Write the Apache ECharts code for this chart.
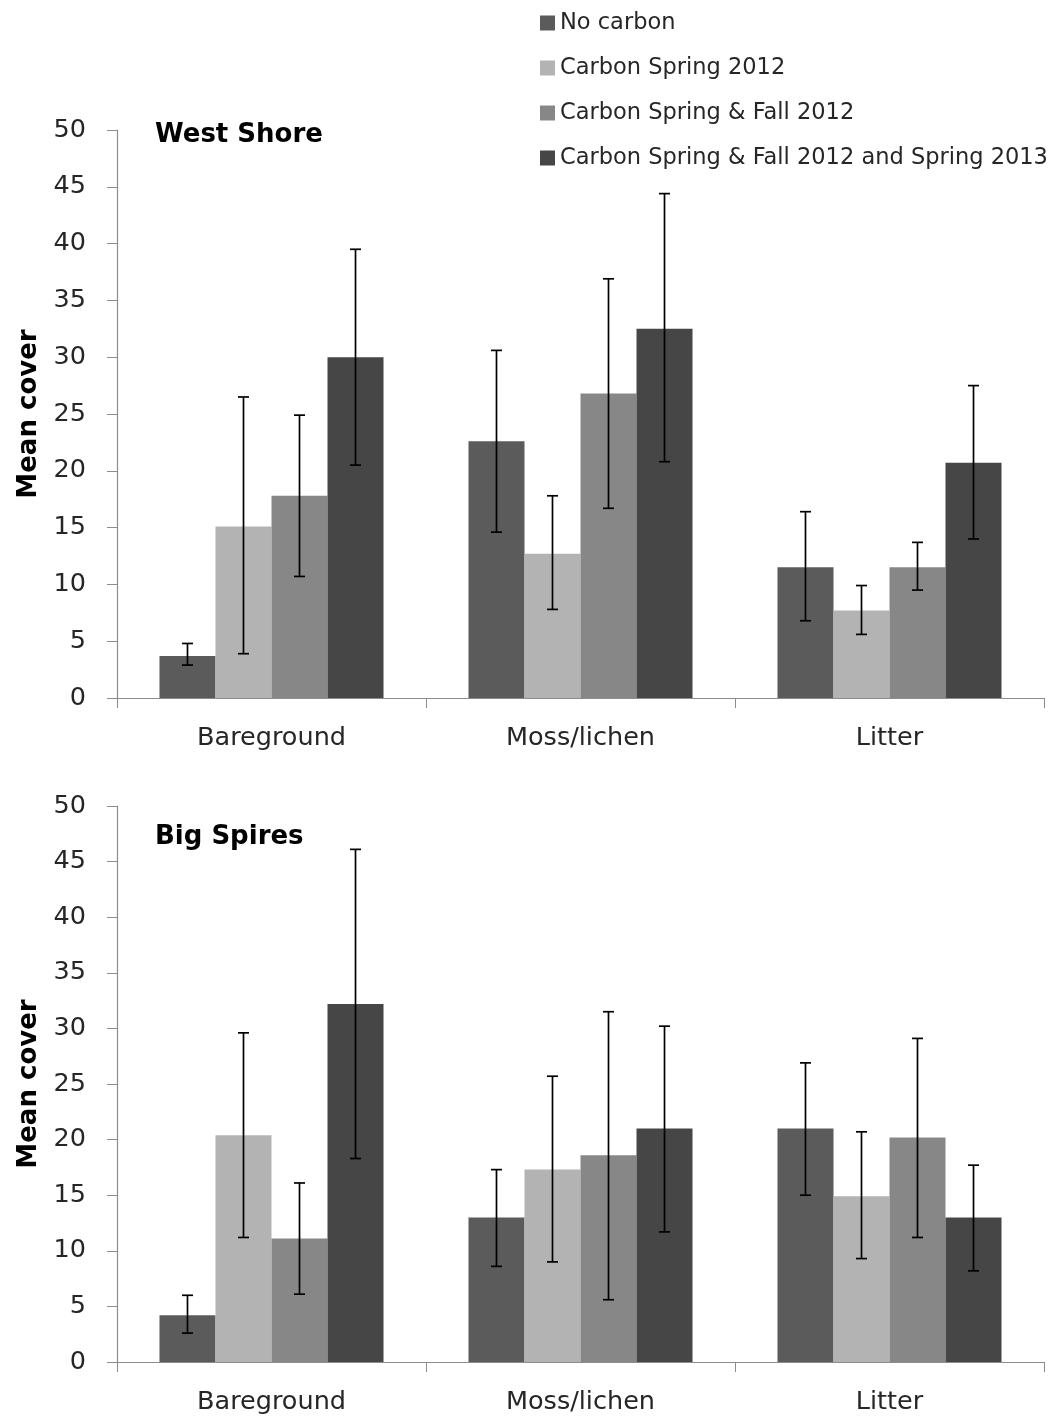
<!DOCTYPE html>
<html>
<head>
<meta charset="utf-8">
<script src="https://cdn.jsdelivr.net/npm/echarts@6/dist/echarts.min.js"></script>
<style>
html,body{margin:0;padding:0;background:#fff;}
#chart{width:1054px;height:1423px;}
</style>
</head>
<body>
<div id="chart"></div>
<script>
// ---------- data ----------
const categories = ['Bareground', 'Moss/lichen', 'Litter'];
const treatments = ['No carbon', 'Carbon Spring 2012', 'Carbon Spring & Fall 2012', 'Carbon Spring & Fall 2012 and Spring 2013'];
const yTicks = [0, 5, 10, 15, 20, 25, 30, 35, 40, 45, 50];

// West Shore: mean per treatment, for each category
const westNoCarbon   = [3.7, 22.6, 11.5];
const westSpring12   = [15.1, 12.7, 7.7];
const westSpringFall = [17.8, 26.8, 11.5];
const westAll        = [30.0, 32.5, 20.7];
// error bar low / high
const westNoCarbonLow   = [2.9, 14.6, 6.8];
const westNoCarbonHigh  = [4.8, 30.6, 16.4];
const westSpring12Low   = [3.9, 7.8, 5.6];
const westSpring12High  = [26.5, 17.8, 9.9];
const westSpringFallLow = [10.7, 16.7, 9.5];
const westSpringFallHigh= [24.9, 36.9, 13.7];
const westAllLow        = [20.5, 20.8, 14.0];
const westAllHigh       = [39.5, 44.4, 27.5];

// Big Spires
const bigNoCarbon   = [4.2, 13.0, 21.0];
const bigSpring12   = [20.4, 17.3, 14.9];
const bigSpringFall = [11.1, 18.6, 20.2];
const bigAll        = [32.2, 21.0, 13.0];
const bigNoCarbonLow    = [2.6, 8.6, 15.0];
const bigNoCarbonHigh   = [6.0, 17.3, 26.9];
const bigSpring12Low    = [11.2, 9.0, 9.3];
const bigSpring12High   = [29.6, 25.7, 20.7];
const bigSpringFallLow  = [6.1, 5.6, 11.2];
const bigSpringFallHigh = [16.1, 31.5, 29.1];
const bigAllLow         = [18.3, 11.7, 8.2];
const bigAllHigh        = [46.1, 30.2, 17.7];

const colors = ['#5b5b5b', '#b3b3b3', '#878787', '#464646'];
const FONT = 'DejaVu Sans';

// ---------- build ----------
const westMeans = [westNoCarbon, westSpring12, westSpringFall, westAll];
const westLows  = [westNoCarbonLow, westSpring12Low, westSpringFallLow, westAllLow];
const westHighs = [westNoCarbonHigh, westSpring12High, westSpringFallHigh, westAllHigh];
const bigMeans  = [bigNoCarbon, bigSpring12, bigSpringFall, bigAll];
const bigLows   = [bigNoCarbonLow, bigSpring12Low, bigSpringFallLow, bigAllLow];
const bigHighs  = [bigNoCarbonHigh, bigSpring12High, bigSpringFallHigh, bigAllHigh];

const CAT_GAP = 0.275;

function errData(lows, highs) {
  const out = [];
  for (let s = 0; s < lows.length; s++)
    for (let c = 0; c < categories.length; c++)
      out.push([c, s, lows[s][c], highs[s][c]]);
  return out;
}

function renderErr(params, api) {
  const c = api.value(0), s = api.value(1);
  const lo = api.coord([c, api.value(2)]);
  const hi = api.coord([c, api.value(3)]);
  const catW = api.size([1, 0])[0];
  const barW = catW * (1 - CAT_GAP) / treatments.length;
  const x = lo[0] + (s - (treatments.length - 1) / 2) * barW;
  const cap = 5.5;
  const style = { stroke: '#000', lineWidth: 1.7 };
  return {
    type: 'group',
    children: [
      { type: 'line', shape: { x1: x, y1: lo[1], x2: x, y2: hi[1] }, style },
      { type: 'line', shape: { x1: x - cap, y1: lo[1], x2: x + cap, y2: lo[1] }, style },
      { type: 'line', shape: { x1: x - cap, y1: hi[1], x2: x + cap, y2: hi[1] }, style }
    ]
  };
}

function xAxis(gi) {
  return {
    type: 'category', gridIndex: gi, data: categories,
    axisLine: { lineStyle: { color: '#8c8c8c', width: 1.2 } },
    axisTick: { show: true, length: 10, lineStyle: { color: '#8c8c8c' }, alignWithLabel: false },
    axisLabel: { color: '#262626', fontSize: 25.5, fontFamily: FONT, margin: 27 },
    splitLine: { show: false }
  };
}
function yAxis(gi) {
  return {
    type: 'value', gridIndex: gi, min: yTicks[0], max: yTicks[yTicks.length - 1], interval: yTicks[1] - yTicks[0],
    name: 'Mean cover', nameLocation: 'middle', nameGap: 74,
    nameTextStyle: { color: '#000', fontSize: 26, fontWeight: 'bold', fontFamily: FONT },
    axisLine: { show: true, lineStyle: { color: '#8c8c8c', width: 1.2 } },
    axisTick: { show: true, length: 10, lineStyle: { color: '#8c8c8c' } },
    axisLabel: { color: '#262626', fontSize: 25.5, fontFamily: FONT, margin: 31 },
    splitLine: { show: false }
  };
}

const series = [];
[westMeans, bigMeans].forEach((means, gi) => {
  means.forEach((vals, s) => {
    series.push({
      type: 'bar', name: treatments[s], xAxisIndex: gi, yAxisIndex: gi, data: vals,
      itemStyle: { color: colors[s] }, barGap: '0%', barCategoryGap: (CAT_GAP * 100) + '%',
      z: 2
    });
  });
});
series.push({ type: 'custom', name: 'errW', xAxisIndex: 0, yAxisIndex: 0, data: errData(westLows, westHighs),
  renderItem: renderErr, encode: { x: 0, y: [2, 3] }, z: 5, silent: true });
series.push({ type: 'custom', name: 'errB', xAxisIndex: 1, yAxisIndex: 1, data: errData(bigLows, bigHighs),
  renderItem: renderErr, encode: { x: 0, y: [2, 3] }, z: 5, silent: true });

const chart = echarts.init(document.getElementById('chart'), null, { renderer: 'canvas' });
chart.setOption({
  animation: false,
  backgroundColor: '#fff',
  color: colors,
  title: [
    { text: 'West Shore', left: 150, top: 117, textStyle: { fontSize: 26, fontWeight: 'bold', color: '#000', fontFamily: FONT } },
    { text: 'Big Spires', left: 150, top: 819, textStyle: { fontSize: 26, fontWeight: 'bold', color: '#000', fontFamily: FONT } }
  ],
  legend: {
    data: treatments, orient: 'vertical', left: 535, top: 3,
    itemWidth: 15, itemHeight: 15, itemGap: 15, icon: 'rect',
    textStyle: { fontSize: 22.5, color: '#262626', fontFamily: FONT, lineHeight: 30, padding: [0, 0, 0, 0] }
  },
  grid: [
    { left: 117, right: 10, top: 130, height: 568 },
    { left: 117, right: 10, top: 806, height: 556 }
  ],
  xAxis: [xAxis(0), xAxis(1)],
  yAxis: [yAxis(0), yAxis(1)],
  series
});
</script>
</body>
</html>
